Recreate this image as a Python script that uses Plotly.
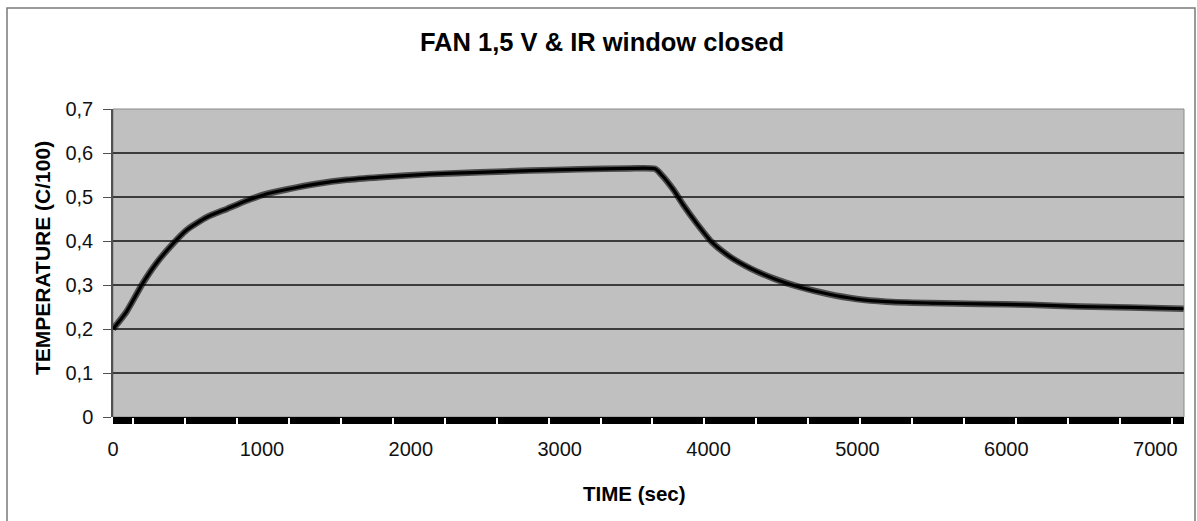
import plotly.graph_objects as go

# Logged temperature trace: fan at 1,5 V, IR window closed
time_s = [0, 90, 200, 290, 395, 495, 630, 765, 900, 1030, 1165, 1370, 1570,
          1795, 2130, 2465, 2800, 3135, 3470, 3640, 3685, 3765, 3830, 3920,
          4020, 4145, 4280, 4435, 4615, 4795, 4995, 5195, 5490, 5825, 6160,
          6495, 6830, 7190]
temp_c100 = [0.200, 0.239, 0.304, 0.349, 0.391, 0.425, 0.454, 0.473, 0.492,
             0.507, 0.517, 0.530, 0.539, 0.545, 0.552, 0.556, 0.560, 0.563,
             0.565, 0.564, 0.550, 0.516, 0.482, 0.440, 0.398, 0.364, 0.338,
             0.315, 0.295, 0.280, 0.268, 0.262, 0.259, 0.257, 0.255, 0.251,
             0.249, 0.246]

y_ticks = [0, 0.1, 0.2, 0.3, 0.4, 0.5, 0.6, 0.7]
x_ticks = [0, 1000, 2000, 3000, 4000, 5000, 6000, 7000]
x_max = 7193

FONT = "Liberation Sans, Arial, sans-serif"
W, H = 1197, 521
ML, MR, MT, MB = 113, 13, 109, 104
PW, PH = W - ML - MR, H - MT - MB


def px_x(p):
    return (p - ML) / PW


def px_y(p):
    return (H - MB - p) / PH


fig = go.Figure()

# soft halo gives the noisy trace its width
fig.add_trace(go.Scatter(x=time_s, y=temp_c100, mode="lines",
                         line=dict(color="rgba(0,0,0,0.6)", width=6.5,
                                   shape="spline", smoothing=0.6),
                         hoverinfo="skip", showlegend=False))
fig.add_trace(go.Scatter(x=time_s, y=temp_c100, mode="lines",
                         line=dict(color="#000000", width=3.2,
                                   shape="spline", smoothing=0.6),
                         showlegend=False))

shapes = [
    # outer chart frame
    dict(type="rect", xref="paper", yref="paper",
         x0=px_x(7), x1=px_x(1195), y0=px_y(530), y1=px_y(8),
         line=dict(color="#7a7a7a", width=1.5), layer="below"),
    # plot area frame
    dict(type="rect", xref="paper", yref="paper", x0=0, x1=1, y0=0, y1=1,
         line=dict(color="#8a8a8a", width=1), layer="below"),
    # heavy band under the time axis
    dict(type="rect", xref="x", yref="paper", x0=0, x1=x_max,
         y0=-7 / PH, y1=0, fillcolor="#000000",
         line=dict(width=0), layer="below"),
]

annotations = [
    dict(text="<b>TIME (sec)</b>", xref="paper", yref="paper",
         x=px_x(634), y=px_y(493), xanchor="center", yanchor="middle",
         showarrow=False, font=dict(family=FONT, size=20.5, color="#000")),
    dict(text="<b>TEMPERATURE (C/100)</b>", xref="paper", yref="paper",
         x=px_x(42), y=px_y(258), xanchor="center", yanchor="middle",
         textangle=-90, showarrow=False,
         font=dict(family=FONT, size=21, color="#000")),
]

fig.update_layout(
    width=W, height=H,
    margin=dict(l=ML, r=MR, t=MT, b=MB, pad=0),
    paper_bgcolor="#ffffff",
    plot_bgcolor="#c0c0c0",
    separators=", ",
    title=dict(text="<b>FAN 1,5 V &amp; IR window closed</b>",
               x=602 / W, y=1 - 42 / H, xanchor="center", yanchor="middle",
               font=dict(family=FONT, size=25.5, color="#000")),
    shapes=shapes,
    annotations=annotations,
    xaxis=dict(range=[0, x_max], tickvals=x_ticks,
               ticktext=[str(v) for v in x_ticks],
               showgrid=False, zeroline=False, showline=False,
               ticks="", ticklabelstandoff=18,
               minor=dict(ticks="outside", tick0=136, dtick=348.7,
                          ticklen=7, tickwidth=1.5, tickcolor="#ffffff",
                          showgrid=False),
               tickfont=dict(family=FONT, size=20, color="#111")),
    yaxis=dict(range=[0, 0.7], tickvals=y_ticks,
               ticktext=["0" if v == 0 else f"{v:.1f}".replace(".", ",")
                         for v in y_ticks],
               showgrid=True, gridcolor="#3c3c3c", gridwidth=1.6,
               zeroline=False, showline=True, linecolor="#505050",
               linewidth=1.5, ticks="outside", ticklen=8, tickwidth=1.2,
               tickcolor="#505050", ticklabelstandoff=6,
               tickfont=dict(family=FONT, size=20, color="#111")),
)

fig.write_html("out.html")
